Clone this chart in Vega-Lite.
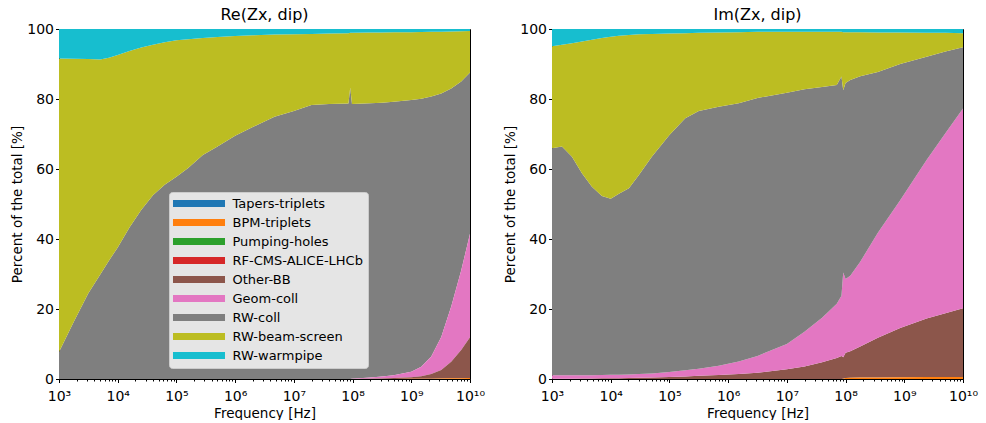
{
  "$schema": "https://vega.github.io/schema/vega-lite/v6.json",
  "background": "white",
  "padding": {"left": 10, "top": 6, "right": 0, "bottom": 0},
  "spacing": 17,
  "datasets": {
    "re": [
      {"freq": 1e3, "series": "RW-coll", "pct": 7.7}, {"freq": 1e3, "series": "RW-beam-screen", "pct": 83.9}, {"freq": 1e3, "series": "RW-warmpipe", "pct": 8.4},
      {"freq": 1.778e3, "series": "RW-coll", "pct": 16.3}, {"freq": 1.778e3, "series": "RW-beam-screen", "pct": 75.2}, {"freq": 1.778e3, "series": "RW-warmpipe", "pct": 8.5},
      {"freq": 3.162e3, "series": "RW-coll", "pct": 24.5}, {"freq": 3.162e3, "series": "RW-beam-screen", "pct": 66.9}, {"freq": 3.162e3, "series": "RW-warmpipe", "pct": 8.6},
      {"freq": 5.012e3, "series": "RW-coll", "pct": 29.8}, {"freq": 5.012e3, "series": "RW-beam-screen", "pct": 61.5}, {"freq": 5.012e3, "series": "RW-warmpipe", "pct": 8.7},
      {"freq": 7.079e3, "series": "RW-coll", "pct": 33.8}, {"freq": 7.079e3, "series": "RW-beam-screen", "pct": 58.0}, {"freq": 7.079e3, "series": "RW-warmpipe", "pct": 8.2},
      {"freq": 1e4, "series": "RW-coll", "pct": 37.6}, {"freq": 1e4, "series": "RW-beam-screen", "pct": 55.0}, {"freq": 1e4, "series": "RW-warmpipe", "pct": 7.4},
      {"freq": 1.585e4, "series": "RW-coll", "pct": 43.3}, {"freq": 1.585e4, "series": "RW-beam-screen", "pct": 50.4}, {"freq": 1.585e4, "series": "RW-warmpipe", "pct": 6.3},
      {"freq": 2.512e4, "series": "RW-coll", "pct": 48.3}, {"freq": 2.512e4, "series": "RW-beam-screen", "pct": 46.4}, {"freq": 2.512e4, "series": "RW-warmpipe", "pct": 5.3},
      {"freq": 3.981e4, "series": "RW-coll", "pct": 52.5}, {"freq": 3.981e4, "series": "RW-beam-screen", "pct": 43.0}, {"freq": 3.981e4, "series": "RW-warmpipe", "pct": 4.5},
      {"freq": 6.31e4, "series": "RW-coll", "pct": 55.5}, {"freq": 6.31e4, "series": "RW-beam-screen", "pct": 40.7}, {"freq": 6.31e4, "series": "RW-warmpipe", "pct": 3.8},
      {"freq": 1e5, "series": "RW-coll", "pct": 57.8}, {"freq": 1e5, "series": "RW-beam-screen", "pct": 39.0}, {"freq": 1e5, "series": "RW-warmpipe", "pct": 3.2},
      {"freq": 1.585e5, "series": "RW-coll", "pct": 60.3}, {"freq": 1.585e5, "series": "RW-beam-screen", "pct": 36.8}, {"freq": 1.585e5, "series": "RW-warmpipe", "pct": 2.9},
      {"freq": 2.818e5, "series": "RW-coll", "pct": 64.0}, {"freq": 2.818e5, "series": "RW-beam-screen", "pct": 33.4}, {"freq": 2.818e5, "series": "RW-warmpipe", "pct": 2.6},
      {"freq": 5.012e5, "series": "RW-coll", "pct": 66.4}, {"freq": 5.012e5, "series": "RW-beam-screen", "pct": 31.3}, {"freq": 5.012e5, "series": "RW-warmpipe", "pct": 2.3},
      {"freq": 1e6, "series": "RW-coll", "pct": 69.5}, {"freq": 1e6, "series": "RW-beam-screen", "pct": 28.5}, {"freq": 1e6, "series": "RW-warmpipe", "pct": 2.0},
      {"freq": 1.995e6, "series": "RW-coll", "pct": 72.0}, {"freq": 1.995e6, "series": "RW-beam-screen", "pct": 26.2}, {"freq": 1.995e6, "series": "RW-warmpipe", "pct": 1.8},
      {"freq": 4.677e6, "series": "RW-coll", "pct": 74.9}, {"freq": 4.677e6, "series": "RW-beam-screen", "pct": 23.5}, {"freq": 4.677e6, "series": "RW-warmpipe", "pct": 1.6},
      {"freq": 1e7, "series": "RW-coll", "pct": 76.6}, {"freq": 1e7, "series": "RW-beam-screen", "pct": 21.9}, {"freq": 1e7, "series": "RW-warmpipe", "pct": 1.5},
      {"freq": 1.995e7, "series": "RW-coll", "pct": 78.3}, {"freq": 1.995e7, "series": "RW-beam-screen", "pct": 20.3}, {"freq": 1.995e7, "series": "RW-warmpipe", "pct": 1.4},
      {"freq": 3.981e7, "series": "RW-coll", "pct": 78.6}, {"freq": 3.981e7, "series": "RW-beam-screen", "pct": 20.1}, {"freq": 3.981e7, "series": "RW-warmpipe", "pct": 1.3},
      {"freq": 8.511e7, "series": "RW-coll", "pct": 78.7}, {"freq": 8.511e7, "series": "RW-beam-screen", "pct": 20.1}, {"freq": 8.511e7, "series": "RW-warmpipe", "pct": 1.2},
      {"freq": 9.12e7, "series": "RW-coll", "pct": 83.3}, {"freq": 9.12e7, "series": "RW-beam-screen", "pct": 15.6}, {"freq": 9.12e7, "series": "RW-warmpipe", "pct": 1.1},
      {"freq": 9.772e7, "series": "Geom-coll", "pct": 0.1}, {"freq": 9.772e7, "series": "RW-coll", "pct": 78.5}, {"freq": 9.772e7, "series": "RW-beam-screen", "pct": 20.3}, {"freq": 9.772e7, "series": "RW-warmpipe", "pct": 1.1},
      {"freq": 1.995e8, "series": "Other-BB", "pct": 0.08}, {"freq": 1.995e8, "series": "Geom-coll", "pct": 0.32}, {"freq": 1.995e8, "series": "RW-coll", "pct": 78.4}, {"freq": 1.995e8, "series": "RW-beam-screen", "pct": 20.2}, {"freq": 1.995e8, "series": "RW-warmpipe", "pct": 1.0},
      {"freq": 3.162e8, "series": "BPM-triplets", "pct": 0.02}, {"freq": 3.162e8, "series": "Other-BB", "pct": 0.13}, {"freq": 3.162e8, "series": "Geom-coll", "pct": 0.55}, {"freq": 3.162e8, "series": "RW-coll", "pct": 78.2}, {"freq": 3.162e8, "series": "RW-beam-screen", "pct": 20.1}, {"freq": 3.162e8, "series": "RW-warmpipe", "pct": 1.0},
      {"freq": 5.012e8, "series": "BPM-triplets", "pct": 0.03}, {"freq": 5.012e8, "series": "Other-BB", "pct": 0.27}, {"freq": 5.012e8, "series": "Geom-coll", "pct": 0.8}, {"freq": 5.012e8, "series": "RW-coll", "pct": 78.1}, {"freq": 5.012e8, "series": "RW-beam-screen", "pct": 19.85}, {"freq": 5.012e8, "series": "RW-warmpipe", "pct": 0.95},
      {"freq": 1e9, "series": "BPM-triplets", "pct": 0.05}, {"freq": 1e9, "series": "Other-BB", "pct": 0.45}, {"freq": 1e9, "series": "Geom-coll", "pct": 1.6}, {"freq": 1e9, "series": "RW-coll", "pct": 77.6}, {"freq": 1e9, "series": "RW-beam-screen", "pct": 19.4}, {"freq": 1e9, "series": "RW-warmpipe", "pct": 0.9},
      {"freq": 1.479e9, "series": "BPM-triplets", "pct": 0.07}, {"freq": 1.479e9, "series": "Other-BB", "pct": 0.73}, {"freq": 1.479e9, "series": "Geom-coll", "pct": 2.7}, {"freq": 1.479e9, "series": "RW-coll", "pct": 76.6}, {"freq": 1.479e9, "series": "RW-beam-screen", "pct": 19.05}, {"freq": 1.479e9, "series": "RW-warmpipe", "pct": 0.85},
      {"freq": 2.188e9, "series": "BPM-triplets", "pct": 0.1}, {"freq": 2.188e9, "series": "Other-BB", "pct": 1.3}, {"freq": 2.188e9, "series": "Geom-coll", "pct": 5.0}, {"freq": 2.188e9, "series": "RW-coll", "pct": 74.3}, {"freq": 2.188e9, "series": "RW-beam-screen", "pct": 18.5}, {"freq": 2.188e9, "series": "RW-warmpipe", "pct": 0.8},
      {"freq": 3.236e9, "series": "BPM-triplets", "pct": 0.15}, {"freq": 3.236e9, "series": "Other-BB", "pct": 2.45}, {"freq": 3.236e9, "series": "Geom-coll", "pct": 9.4}, {"freq": 3.236e9, "series": "RW-coll", "pct": 69.6}, {"freq": 3.236e9, "series": "RW-beam-screen", "pct": 17.65}, {"freq": 3.236e9, "series": "RW-warmpipe", "pct": 0.75},
      {"freq": 4.786e9, "series": "BPM-triplets", "pct": 0.2}, {"freq": 4.786e9, "series": "Other-BB", "pct": 4.7}, {"freq": 4.786e9, "series": "Geom-coll", "pct": 15.8}, {"freq": 4.786e9, "series": "RW-coll", "pct": 62.3}, {"freq": 4.786e9, "series": "RW-beam-screen", "pct": 16.3}, {"freq": 4.786e9, "series": "RW-warmpipe", "pct": 0.7},
      {"freq": 7.079e9, "series": "BPM-triplets", "pct": 0.25}, {"freq": 7.079e9, "series": "Other-BB", "pct": 8.05}, {"freq": 7.079e9, "series": "Geom-coll", "pct": 22.7}, {"freq": 7.079e9, "series": "RW-coll", "pct": 54.0}, {"freq": 7.079e9, "series": "RW-beam-screen", "pct": 14.35}, {"freq": 7.079e9, "series": "RW-warmpipe", "pct": 0.65},
      {"freq": 1e10, "series": "BPM-triplets", "pct": 0.3}, {"freq": 1e10, "series": "Other-BB", "pct": 11.6}, {"freq": 1e10, "series": "Geom-coll", "pct": 29.6}, {"freq": 1e10, "series": "RW-coll", "pct": 46.1}, {"freq": 1e10, "series": "RW-beam-screen", "pct": 11.8}, {"freq": 1e10, "series": "RW-warmpipe", "pct": 0.6}
    ],
    "im": [
      {"freq": 1e3, "series": "Other-BB", "pct": 0.1}, {"freq": 1e3, "series": "Geom-coll", "pct": 1.0}, {"freq": 1e3, "series": "RW-coll", "pct": 64.8}, {"freq": 1e3, "series": "RW-beam-screen", "pct": 29.2}, {"freq": 1e3, "series": "RW-warmpipe", "pct": 4.9},
      {"freq": 1.479e3, "series": "Other-BB", "pct": 0.1}, {"freq": 1.479e3, "series": "Geom-coll", "pct": 1.0}, {"freq": 1.479e3, "series": "RW-coll", "pct": 65.3}, {"freq": 1.479e3, "series": "RW-beam-screen", "pct": 29.1}, {"freq": 1.479e3, "series": "RW-warmpipe", "pct": 4.5},
      {"freq": 2.188e3, "series": "Other-BB", "pct": 0.1}, {"freq": 2.188e3, "series": "Geom-coll", "pct": 1.0}, {"freq": 2.188e3, "series": "RW-coll", "pct": 62.4}, {"freq": 2.188e3, "series": "RW-beam-screen", "pct": 32.4}, {"freq": 2.188e3, "series": "RW-warmpipe", "pct": 4.1},
      {"freq": 3.236e3, "series": "Other-BB", "pct": 0.15}, {"freq": 3.236e3, "series": "Geom-coll", "pct": 0.95}, {"freq": 3.236e3, "series": "RW-coll", "pct": 57.7}, {"freq": 3.236e3, "series": "RW-beam-screen", "pct": 37.6}, {"freq": 3.236e3, "series": "RW-warmpipe", "pct": 3.6},
      {"freq": 4.786e3, "series": "Other-BB", "pct": 0.15}, {"freq": 4.786e3, "series": "Geom-coll", "pct": 0.95}, {"freq": 4.786e3, "series": "RW-coll", "pct": 53.8}, {"freq": 4.786e3, "series": "RW-beam-screen", "pct": 42.0}, {"freq": 4.786e3, "series": "RW-warmpipe", "pct": 3.1},
      {"freq": 7.079e3, "series": "Other-BB", "pct": 0.2}, {"freq": 7.079e3, "series": "Geom-coll", "pct": 0.95}, {"freq": 7.079e3, "series": "RW-coll", "pct": 51.15}, {"freq": 7.079e3, "series": "RW-beam-screen", "pct": 45.1}, {"freq": 7.079e3, "series": "RW-warmpipe", "pct": 2.6},
      {"freq": 1e4, "series": "Other-BB", "pct": 0.2}, {"freq": 1e4, "series": "Geom-coll", "pct": 1.0}, {"freq": 1e4, "series": "RW-coll", "pct": 50.3}, {"freq": 1e4, "series": "RW-beam-screen", "pct": 46.3}, {"freq": 1e4, "series": "RW-warmpipe", "pct": 2.2},
      {"freq": 1.38e4, "series": "Other-BB", "pct": 0.25}, {"freq": 1.38e4, "series": "Geom-coll", "pct": 1.0}, {"freq": 1.38e4, "series": "RW-coll", "pct": 51.65}, {"freq": 1.38e4, "series": "RW-beam-screen", "pct": 45.2}, {"freq": 1.38e4, "series": "RW-warmpipe", "pct": 1.9},
      {"freq": 2.042e4, "series": "Other-BB", "pct": 0.3}, {"freq": 2.042e4, "series": "Geom-coll", "pct": 1.0}, {"freq": 2.042e4, "series": "RW-coll", "pct": 53.2}, {"freq": 2.042e4, "series": "RW-beam-screen", "pct": 43.8}, {"freq": 2.042e4, "series": "RW-warmpipe", "pct": 1.7},
      {"freq": 3.02e4, "series": "Other-BB", "pct": 0.35}, {"freq": 3.02e4, "series": "Geom-coll", "pct": 1.05}, {"freq": 3.02e4, "series": "RW-coll", "pct": 56.9}, {"freq": 3.02e4, "series": "RW-beam-screen", "pct": 40.2}, {"freq": 3.02e4, "series": "RW-warmpipe", "pct": 1.5},
      {"freq": 5.012e4, "series": "Other-BB", "pct": 0.45}, {"freq": 5.012e4, "series": "Geom-coll", "pct": 1.15}, {"freq": 5.012e4, "series": "RW-coll", "pct": 61.9}, {"freq": 5.012e4, "series": "RW-beam-screen", "pct": 35.1}, {"freq": 5.012e4, "series": "RW-warmpipe", "pct": 1.4},
      {"freq": 1e5, "series": "Other-BB", "pct": 0.6}, {"freq": 1e5, "series": "Geom-coll", "pct": 1.4}, {"freq": 1e5, "series": "RW-coll", "pct": 67.7}, {"freq": 1e5, "series": "RW-beam-screen", "pct": 29.0}, {"freq": 1e5, "series": "RW-warmpipe", "pct": 1.3},
      {"freq": 1.862e5, "series": "Other-BB", "pct": 0.75}, {"freq": 1.862e5, "series": "Geom-coll", "pct": 1.75}, {"freq": 1.862e5, "series": "RW-coll", "pct": 72.0}, {"freq": 1.862e5, "series": "RW-beam-screen", "pct": 24.3}, {"freq": 1.862e5, "series": "RW-warmpipe", "pct": 1.2},
      {"freq": 3.162e5, "series": "Other-BB", "pct": 0.9}, {"freq": 3.162e5, "series": "Geom-coll", "pct": 2.0}, {"freq": 3.162e5, "series": "RW-coll", "pct": 73.7}, {"freq": 3.162e5, "series": "RW-beam-screen", "pct": 22.3}, {"freq": 3.162e5, "series": "RW-warmpipe", "pct": 1.1},
      {"freq": 6.918e5, "series": "Other-BB", "pct": 1.15}, {"freq": 6.918e5, "series": "Geom-coll", "pct": 2.65}, {"freq": 6.918e5, "series": "RW-coll", "pct": 74.0}, {"freq": 6.918e5, "series": "RW-beam-screen", "pct": 21.2}, {"freq": 6.918e5, "series": "RW-warmpipe", "pct": 1.0},
      {"freq": 1.514e6, "series": "Other-BB", "pct": 1.45}, {"freq": 1.514e6, "series": "Geom-coll", "pct": 3.55}, {"freq": 1.514e6, "series": "RW-coll", "pct": 73.8}, {"freq": 1.514e6, "series": "RW-beam-screen", "pct": 20.3}, {"freq": 1.514e6, "series": "RW-warmpipe", "pct": 0.9},
      {"freq": 3.162e6, "series": "Other-BB", "pct": 1.8}, {"freq": 3.162e6, "series": "Geom-coll", "pct": 4.8}, {"freq": 3.162e6, "series": "RW-coll", "pct": 73.7}, {"freq": 3.162e6, "series": "RW-beam-screen", "pct": 18.9}, {"freq": 3.162e6, "series": "RW-warmpipe", "pct": 0.8},
      {"freq": 1e7, "series": "Other-BB", "pct": 2.8}, {"freq": 1e7, "series": "Geom-coll", "pct": 7.2}, {"freq": 1e7, "series": "RW-coll", "pct": 71.8}, {"freq": 1e7, "series": "RW-beam-screen", "pct": 17.4}, {"freq": 1e7, "series": "RW-warmpipe", "pct": 0.8},
      {"freq": 1.995e7, "series": "Other-BB", "pct": 3.6}, {"freq": 1.995e7, "series": "Geom-coll", "pct": 9.9}, {"freq": 1.995e7, "series": "RW-coll", "pct": 69.3}, {"freq": 1.995e7, "series": "RW-beam-screen", "pct": 16.4}, {"freq": 1.995e7, "series": "RW-warmpipe", "pct": 0.8},
      {"freq": 3.981e7, "series": "Other-BB", "pct": 4.8}, {"freq": 3.981e7, "series": "Geom-coll", "pct": 12.7}, {"freq": 3.981e7, "series": "RW-coll", "pct": 65.9}, {"freq": 3.981e7, "series": "RW-beam-screen", "pct": 15.8}, {"freq": 3.981e7, "series": "RW-warmpipe", "pct": 0.8},
      {"freq": 7.079e7, "series": "Other-BB", "pct": 6.0}, {"freq": 7.079e7, "series": "Geom-coll", "pct": 15.5}, {"freq": 7.079e7, "series": "RW-coll", "pct": 62.5}, {"freq": 7.079e7, "series": "RW-beam-screen", "pct": 15.2}, {"freq": 7.079e7, "series": "RW-warmpipe", "pct": 0.8},
      {"freq": 8.511e7, "series": "Other-BB", "pct": 6.6}, {"freq": 8.511e7, "series": "Geom-coll", "pct": 17.2}, {"freq": 8.511e7, "series": "RW-coll", "pct": 62.6}, {"freq": 8.511e7, "series": "RW-beam-screen", "pct": 12.8}, {"freq": 8.511e7, "series": "RW-warmpipe", "pct": 0.8},
      {"freq": 9.12e7, "series": "BPM-triplets", "pct": 0.1}, {"freq": 9.12e7, "series": "Other-BB", "pct": 6.1}, {"freq": 9.12e7, "series": "Geom-coll", "pct": 24.2}, {"freq": 9.12e7, "series": "RW-coll", "pct": 52.1}, {"freq": 9.12e7, "series": "RW-beam-screen", "pct": 16.6}, {"freq": 9.12e7, "series": "RW-warmpipe", "pct": 0.9},
      {"freq": 1e8, "series": "BPM-triplets", "pct": 0.3}, {"freq": 1e8, "series": "Other-BB", "pct": 7.2}, {"freq": 1e8, "series": "Geom-coll", "pct": 21.1}, {"freq": 1e8, "series": "RW-coll", "pct": 56.0}, {"freq": 1e8, "series": "RW-beam-screen", "pct": 14.5}, {"freq": 1e8, "series": "RW-warmpipe", "pct": 0.9},
      {"freq": 1.202e8, "series": "BPM-triplets", "pct": 0.35}, {"freq": 1.202e8, "series": "Other-BB", "pct": 7.55}, {"freq": 1.202e8, "series": "Geom-coll", "pct": 21.6}, {"freq": 1.202e8, "series": "RW-coll", "pct": 55.9}, {"freq": 1.202e8, "series": "RW-beam-screen", "pct": 13.7}, {"freq": 1.202e8, "series": "RW-warmpipe", "pct": 0.9},
      {"freq": 1.778e8, "series": "BPM-triplets", "pct": 0.4}, {"freq": 1.778e8, "series": "Other-BB", "pct": 8.9}, {"freq": 1.778e8, "series": "Geom-coll", "pct": 24.2}, {"freq": 1.778e8, "series": "RW-coll", "pct": 53.0}, {"freq": 1.778e8, "series": "RW-beam-screen", "pct": 12.6}, {"freq": 1.778e8, "series": "RW-warmpipe", "pct": 0.9},
      {"freq": 3.548e8, "series": "BPM-triplets", "pct": 0.45}, {"freq": 3.548e8, "series": "Other-BB", "pct": 11.35}, {"freq": 3.548e8, "series": "Geom-coll", "pct": 30.0}, {"freq": 3.548e8, "series": "RW-coll", "pct": 45.9}, {"freq": 3.548e8, "series": "RW-beam-screen", "pct": 11.3}, {"freq": 3.548e8, "series": "RW-warmpipe", "pct": 1.0},
      {"freq": 8.511e8, "series": "BPM-triplets", "pct": 0.5}, {"freq": 8.511e8, "series": "Other-BB", "pct": 14.1}, {"freq": 8.511e8, "series": "Geom-coll", "pct": 36.5}, {"freq": 8.511e8, "series": "RW-coll", "pct": 38.9}, {"freq": 8.511e8, "series": "RW-beam-screen", "pct": 9.0}, {"freq": 8.511e8, "series": "RW-warmpipe", "pct": 1.0},
      {"freq": 2.399e9, "series": "BPM-triplets", "pct": 0.55}, {"freq": 2.399e9, "series": "Other-BB", "pct": 16.75}, {"freq": 2.399e9, "series": "Geom-coll", "pct": 45.3}, {"freq": 2.399e9, "series": "RW-coll", "pct": 29.5}, {"freq": 2.399e9, "series": "RW-beam-screen", "pct": 6.8}, {"freq": 2.399e9, "series": "RW-warmpipe", "pct": 1.1},
      {"freq": 5.012e9, "series": "BPM-triplets", "pct": 0.6}, {"freq": 5.012e9, "series": "Other-BB", "pct": 18.2}, {"freq": 5.012e9, "series": "Geom-coll", "pct": 51.4}, {"freq": 5.012e9, "series": "RW-coll", "pct": 23.4}, {"freq": 5.012e9, "series": "RW-beam-screen", "pct": 5.3}, {"freq": 5.012e9, "series": "RW-warmpipe", "pct": 1.1},
      {"freq": 1e10, "series": "BPM-triplets", "pct": 0.6}, {"freq": 1e10, "series": "Other-BB", "pct": 19.6}, {"freq": 1e10, "series": "Geom-coll", "pct": 57.1}, {"freq": 1e10, "series": "RW-coll", "pct": 17.5}, {"freq": 1e10, "series": "RW-beam-screen", "pct": 4.0}, {"freq": 1e10, "series": "RW-warmpipe", "pct": 1.2}
    ]
  },
  "hconcat": [
    {
      "width": 411,
      "height": 350,
      "title": "Re(Zx, dip)",
      "data": {"name": "re"},
      "transform": [
        {"calculate": "indexof(['Tapers-triplets','BPM-triplets','Pumping-holes','RF-CMS-ALICE-LHCb','Other-BB','Geom-coll','RW-coll','RW-beam-screen','RW-warmpipe'], datum.series)", "as": "rank"}
      ],
      "mark": {"type": "area", "interpolate": "linear", "opacity": 1},
      "encoding": {
        "x": {
          "field": "freq", "type": "quantitative",
          "scale": {"type": "log", "domain": [1000, 10000000000], "nice": false},
          "axis": {
            "title": "Frequency [Hz]",
            "values": [1000,2000,3000,4000,5000,6000,7000,8000,9000,10000,20000,30000,40000,50000,60000,70000,80000,90000,100000,200000,300000,400000,500000,600000,700000,800000,900000,1000000,2000000,3000000,4000000,5000000,6000000,7000000,8000000,9000000,10000000,20000000,30000000,40000000,50000000,60000000,70000000,80000000,90000000,100000000,200000000,300000000,400000000,500000000,600000000,700000000,800000000,900000000,1000000000,2000000000,3000000000,4000000000,5000000000,6000000000,7000000000,8000000000,9000000000,10000000000],
            "labelExpr": "abs(log(datum.value)/LN10 - round(log(datum.value)/LN10)) < 0.000001 ? ['10⁰','10¹','10²','10³','10⁴','10⁵','10⁶','10⁷','10⁸','10⁹','10¹⁰'][round(log(datum.value)/LN10)] : ''",
            "tickSize": {"condition": {"test": "abs(log(datum.value)/LN10 - round(log(datum.value)/LN10)) < 0.000001", "value": 3.5}, "value": 2},
            "labelFlush": false, "labelOverlap": false, "labelBound": false
          }
        },
        "y": {
          "field": "pct", "type": "quantitative", "stack": "zero",
          "scale": {"domain": [0, 100], "nice": false},
          "axis": {"title": "Percent of the total [%]", "values": [0, 20, 40, 60, 80, 100]}
        },
        "color": {
          "field": "series", "type": "nominal",
          "scale": {
            "domain": ["Tapers-triplets","BPM-triplets","Pumping-holes","RF-CMS-ALICE-LHCb","Other-BB","Geom-coll","RW-coll","RW-beam-screen","RW-warmpipe"],
            "range": ["#1f77b4","#ff7f0e","#2ca02c","#d62728","#8c564b","#e377c2","#7f7f7f","#bcbd22","#17becf"]
          },
          "legend": {
            "title": null, "orient": "none", "legendX": 110, "legendY": 163,
            "fillColor": "#e5e5e5", "strokeColor": "#cccccc", "cornerRadius": 3, "padding": 5,
            "symbolType": "M-7.43,-1H7.43V1H-7.43Z", "symbolSize": 49, "symbolStrokeWidth": 0, "symbolOpacity": 1,
            "symbolOffset": 18.5, "labelOffset": 27, "labelFontSize": 13, "labelFont": "DejaVu Sans", "labelColor": "#000", "rowPadding": 5
          }
        },
        "order": {"field": "rank", "type": "quantitative", "sort": "ascending"}
      }
    },
    {
      "width": 411,
      "height": 350,
      "title": "Im(Zx, dip)",
      "data": {"name": "im"},
      "transform": [
        {"calculate": "indexof(['Tapers-triplets','BPM-triplets','Pumping-holes','RF-CMS-ALICE-LHCb','Other-BB','Geom-coll','RW-coll','RW-beam-screen','RW-warmpipe'], datum.series)", "as": "rank"}
      ],
      "mark": {"type": "area", "interpolate": "linear", "opacity": 1},
      "encoding": {
        "x": {
          "field": "freq", "type": "quantitative",
          "scale": {"type": "log", "domain": [1000, 10000000000], "nice": false},
          "axis": {
            "title": "Frequency [Hz]",
            "values": [1000,2000,3000,4000,5000,6000,7000,8000,9000,10000,20000,30000,40000,50000,60000,70000,80000,90000,100000,200000,300000,400000,500000,600000,700000,800000,900000,1000000,2000000,3000000,4000000,5000000,6000000,7000000,8000000,9000000,10000000,20000000,30000000,40000000,50000000,60000000,70000000,80000000,90000000,100000000,200000000,300000000,400000000,500000000,600000000,700000000,800000000,900000000,1000000000,2000000000,3000000000,4000000000,5000000000,6000000000,7000000000,8000000000,9000000000,10000000000],
            "labelExpr": "abs(log(datum.value)/LN10 - round(log(datum.value)/LN10)) < 0.000001 ? ['10⁰','10¹','10²','10³','10⁴','10⁵','10⁶','10⁷','10⁸','10⁹','10¹⁰'][round(log(datum.value)/LN10)] : ''",
            "tickSize": {"condition": {"test": "abs(log(datum.value)/LN10 - round(log(datum.value)/LN10)) < 0.000001", "value": 3.5}, "value": 2},
            "labelFlush": false, "labelOverlap": false, "labelBound": false
          }
        },
        "y": {
          "field": "pct", "type": "quantitative", "stack": "zero",
          "scale": {"domain": [0, 100], "nice": false},
          "axis": {"title": "Percent of the total [%]", "values": [0, 20, 40, 60, 80, 100]}
        },
        "color": {
          "field": "series", "type": "nominal",
          "scale": {
            "domain": ["Tapers-triplets","BPM-triplets","Pumping-holes","RF-CMS-ALICE-LHCb","Other-BB","Geom-coll","RW-coll","RW-beam-screen","RW-warmpipe"],
            "range": ["#1f77b4","#ff7f0e","#2ca02c","#d62728","#8c564b","#e377c2","#7f7f7f","#bcbd22","#17becf"]
          },
          "legend": null
        },
        "order": {"field": "rank", "type": "quantitative", "sort": "ascending"}
      }
    }
  ],
  "resolve": {"scale": {"color": "independent"}},
  "config": {
    "font": "DejaVu Sans",
    "view": {"stroke": "#000000", "strokeWidth": 1},
    "title": {"font": "DejaVu Sans", "fontSize": 16, "fontWeight": "normal", "color": "#000", "offset": -1},
    "axis": {
      "grid": false, "domainColor": "#000", "domainWidth": 1, "tickColor": "#000", "tickWidth": 1, "tickSize": 3.5,
      "labelColor": "#000", "labelFont": "DejaVu Sans", "labelFontSize": 14,
      "titleColor": "#000", "titleFont": "DejaVu Sans", "titleFontSize": 13.5, "titleFontWeight": "normal",
      "zindex": 1
    },
    "axisX": {"labelPadding": 7, "titlePadding": 2.5},
    "axisY": {"labelPadding": 2, "titlePadding": 2}
  }
}
